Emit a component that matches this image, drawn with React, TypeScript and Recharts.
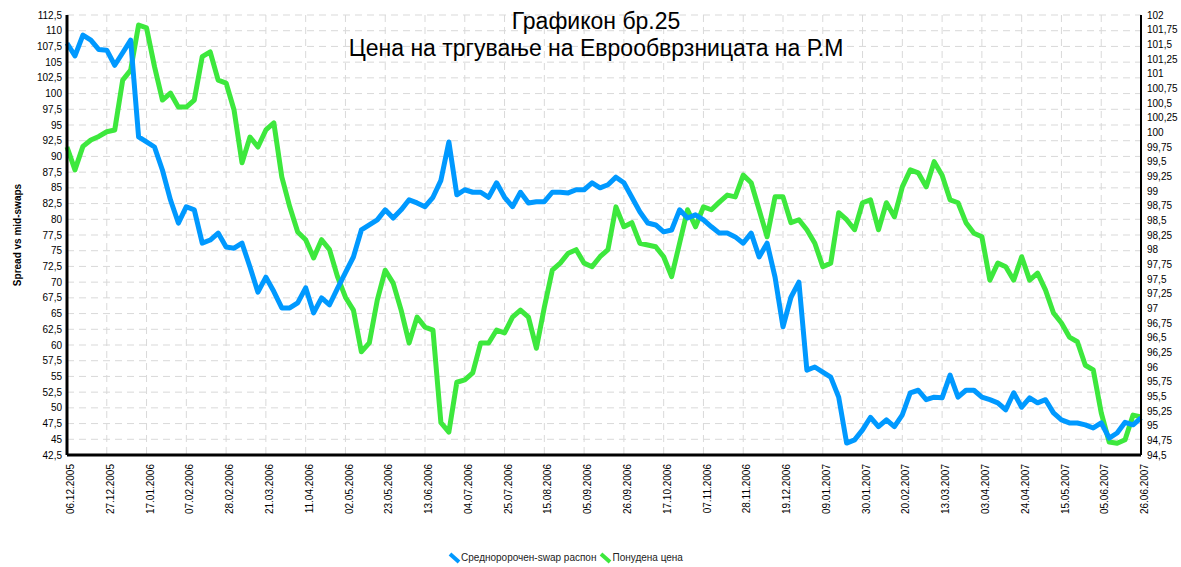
import React from 'react'
import { LineChart, Line, XAxis, YAxis, CartesianGrid } from 'recharts'

// tick labels every 15 business days, 5 samples per label step
const dateLabels = [
  '06.12.2005', '27.12.2005', '17.01.2006', '07.02.2006', '28.02.2006', '21.03.2006', '11.04.2006',
  '02.05.2006', '23.05.2006', '13.06.2006', '04.07.2006', '25.07.2006', '15.08.2006', '05.09.2006',
  '26.09.2006', '17.10.2006', '07.11.2006', '28.11.2006', '19.12.2006', '09.01.2007', '30.01.2007',
  '20.02.2007', '13.03.2007', '03.04.2007', '24.04.2007', '15.05.2007', '05.06.2007', '26.06.2007',
]

// Средноророчен-swap распон (left axis)
const spread = [
  108, 106, 109.3, 108.5, 107, 106.9, 104.5, 106.5, 108.5, 93.1,
  92.3, 91.5, 87.8, 83.1, 79.4, 82, 81.5, 76.2, 76.7, 77.8,
  75.6, 75.4, 76.2, 72.4, 68.4, 70.8, 68.5, 65.9, 65.9, 66.7,
  69.1, 65.1, 67.5, 66.4, 69, 71.5, 74, 78.3, 79.1, 79.9,
  81.5, 80.2, 81.5, 83.1, 82.6, 82, 83.5, 86.2, 92.3, 83.9,
  84.7, 84.3, 84.3, 83.5, 85.8, 83.5, 82, 84.3, 82.6, 82.8,
  82.8, 84.3, 84.3, 84.2, 84.7, 84.7, 85.8, 85, 85.5, 86.7,
  85.8, 83.5, 81.2, 79.4, 79.1, 78, 78.3, 81.5, 80.2, 80.7,
  79.9, 78.8, 77.8, 77.8, 77.2, 76.2, 77.8, 74, 76.2, 70.8,
  62.9, 67.6, 70, 56, 56.5, 55.7, 54.9, 51.7, 44.4, 44.9,
  46.5, 48.5, 47, 48.1, 47, 48.9, 52.4, 52.8, 51.3, 51.7,
  51.6, 55.2, 51.7, 52.8, 52.8, 51.7, 51.3, 50.8, 49.7, 52.4,
  50.1, 51.6, 50.8, 51.3, 49.2, 48.1, 47.6, 47.6, 47.3, 46.8,
  47.6, 45.2, 46, 47.7, 47.3, 48.4,
]

// Понудена цена (right axis)
const price = [
  99.75, 99.36, 99.76, 99.87, 99.93, 100.01, 100.04, 100.89, 101.06, 101.83,
  101.78, 101.12, 100.55, 100.67, 100.43, 100.43, 100.55, 101.29, 101.37, 100.89,
  100.84, 100.38, 99.48, 99.92, 99.75, 100.04, 100.16, 99.24, 98.73, 98.3,
  98.17, 97.86, 98.17, 98, 97.54, 97.19, 96.97, 96.26, 96.41, 97.14,
  97.65, 97.43, 96.97, 96.41, 96.85, 96.68, 96.63, 95.05, 94.89, 95.74,
  95.78, 95.9, 96.41, 96.41, 96.63, 96.58, 96.85, 96.97, 96.85, 96.32,
  97.02, 97.65, 97.77, 97.94, 98, 97.77, 97.71, 97.88, 98, 98.73,
  98.39, 98.46, 98.11, 98.08, 98.05, 97.88, 97.54, 98.11, 98.68, 98.39,
  98.73, 98.68, 98.81, 98.93, 98.9, 99.27, 99.14, 98.68, 98.22, 98.9,
  98.9, 98.46, 98.51, 98.34, 98.11, 97.71, 97.77, 98.63, 98.51, 98.34,
  98.8, 98.85, 98.34, 98.8, 98.56, 99.07, 99.36, 99.31, 99.07, 99.5,
  99.27, 98.85, 98.8, 98.46, 98.28, 98.22, 97.48, 97.77, 97.71, 97.48,
  97.88, 97.48, 97.6, 97.31, 96.92, 96.75, 96.51, 96.43, 96.03, 95.95,
  95.22, 94.72, 94.7, 94.76, 95.18, 95.15,
]

const leftTicks = Array.from({ length: 29 }, (_, k) => 42.5 + k * 2.5)
const rightTicks = Array.from({ length: 31 }, (_, k) => 94.5 + k * 0.25)
const xTicks = dateLabels.map((_, k) => k * 5)

const data = spread.map((s, i) => ({ i, spread: s, price: price[i] }))

const BLUE = '#0099ff'
const GREEN = '#3de83d'
const FONT = '"Liberation Sans", Arial, sans-serif'

const comma = (v: number) => String(v).replace('.', ',')

function LegendIcon({ color }: { color: string }) {
  return (
    <svg width={13} height={12} style={{ verticalAlign: 'middle' }}>
      <line x1={2} y1={2} x2={11} y2={10} stroke={color} strokeWidth={4} />
    </svg>
  )
}

export default function App() {
  return (
    <div style={{ position: 'absolute', left: 0, top: 0, width: 1181, height: 567, background: '#fff', fontFamily: FONT }}>
      <LineChart width={1181} height={567} data={data} margin={{ top: 15, right: 0, left: 0, bottom: 0 }}>
        <CartesianGrid yAxisId="left" stroke="#d9d9d9" strokeDasharray="7 5" />
        <XAxis
          dataKey="i"
          type="number"
          domain={[0, 135]}
          ticks={xTicks}
          interval={0}
          height={112}
          tickFormatter={(v: number) => dateLabels[Math.round(v / 5)]}
          tick={{ fontSize: 10, fill: '#000', fontFamily: FONT, angle: -90, textAnchor: 'end', dy: 3 } as any}
          tickLine={false}
          tickSize={0}
          tickMargin={6}
          axisLine={{ stroke: '#000', strokeWidth: 3 }}
        />
        <YAxis
          yAxisId="left"
          domain={[42.5, 112.5]}
          ticks={leftTicks}
          interval={0}
          width={67}
          tickFormatter={comma}
          tick={{ fontSize: 10, fill: '#000', fontFamily: FONT }}
          tickLine={false}
          tickSize={0}
          tickMargin={5}
          axisLine={{ stroke: '#000', strokeWidth: 3 }}
        />
        <YAxis
          yAxisId="right"
          orientation="right"
          domain={[94.5, 102]}
          ticks={rightTicks}
          interval={0}
          width={40}
          tickFormatter={comma}
          tick={{ fontSize: 10, fill: '#000', fontFamily: FONT }}
          tickLine={false}
          tickSize={0}
          tickMargin={6}
          axisLine={{ stroke: '#000', strokeWidth: 2 }}
        />
        <Line
          yAxisId="right"
          dataKey="price"
          stroke={GREEN}
          strokeWidth={5}
          dot={false}
          strokeLinejoin="round"
          isAnimationActive={false}
        />
        <Line
          yAxisId="left"
          dataKey="spread"
          stroke={BLUE}
          strokeWidth={5}
          dot={false}
          strokeLinejoin="round"
          isAnimationActive={false}
        />
      </LineChart>

      <div style={{ position: 'absolute', left: 296, width: 600, top: 8, textAlign: 'center', fontSize: 23, lineHeight: '27px', color: '#000', pointerEvents: 'none' }}>
        Графикон бр.25
      </div>
      <div style={{ position: 'absolute', left: 196, width: 800, top: 35, textAlign: 'center', fontSize: 23, lineHeight: '27px', color: '#000', pointerEvents: 'none' }}>
        Цена на тргување на Еврообврзницата на Р.М
      </div>

      <div style={{ position: 'absolute', left: 17, top: 235, transform: 'translate(-50%, -50%) rotate(-90deg)', fontSize: 10, fontWeight: 'bold', whiteSpace: 'nowrap', color: '#000' }}>
        Spread vs mid-swaps
      </div>

      <div style={{ position: 'absolute', left: 448, top: 552, fontSize: 10, color: '#222', whiteSpace: 'nowrap' }}>
        <span>
          <LegendIcon color={BLUE} />Средноророчен-swap распон
        </span>
        <span style={{ marginLeft: 3 }}>
          <LegendIcon color={GREEN} />Понудена цена
        </span>
      </div>
    </div>
  )
}
